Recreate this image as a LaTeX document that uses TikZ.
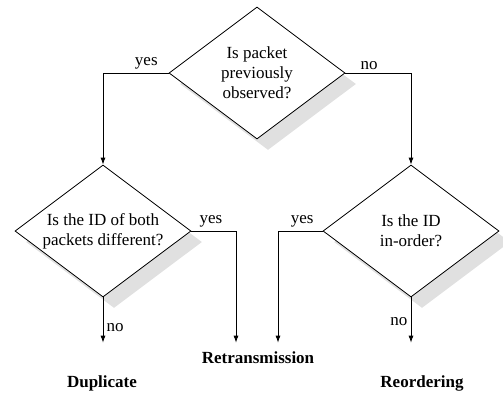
\documentclass[tikz,border=0pt]{standalone}
\usepackage{fontspec}
\setmainfont{Liberation Serif}
\usetikzlibrary{shapes.geometric,shadows,arrows.meta}

\begin{document}
\begin{tikzpicture}[x=1pt,y=-1pt,font=\fontsize{17}{20}\selectfont]

		\tikzset{decision/.style = {shape=diamond,draw,fill=white,inner sep=0pt,minimum width=176pt,minimum height=132pt,line width=0.8pt,general shadow={fill=black!12,shadow xshift=11pt,shadow yshift=-11pt}}}
		\tikzset{edge/.style = {->,> = {Latex[length=7pt,width=5pt]},line width=0.8pt}}
		\tikzset{result/.style = {font=\fontsize{17}{20}\selectfont\bfseries,anchor=base}}

		\useasboundingbox (0,0) rectangle (503,399);

		\node[decision] (observed) at (257,73) {};
		\node[decision] (different) at (103,231) {};
		\node[decision] (inorder) at (411,231) {};

		\node[align=center] (observedtext) at (observed) {Is packet\\previously\\observed?};
		\node[align=center] (differenttext) at (different) {Is the ID of both\\packets different?};
		\node[align=center] (inordertext) at (inorder) {Is the ID\\in-order?};

		\node[result] (retx) at (258,363) {Retransmission};
		\node[result] (dup) at (102,387) {Duplicate};
		\node[result] (reord) at (422,387) {Reordering};

		\draw[edge] (observed.west) -| (different.north) node [pos=0.17, above] {yes};
		\draw[edge] (observed.east) -| (inorder.north) node [pos=0.18, above] {no};

		\draw[edge, shorten >=5pt] (different.east) -| ([xshift=-22pt]retx.north) node [pos=0.22, above] {yes};
		\draw[edge, shorten >=5pt] (inorder.west) -| ([xshift=20pt]retx.north) node [pos=0.23, above] {yes};

		\draw[edge, shorten >=29pt] (different.south) -- (different.south |- dup.north) node [pos=0.4, right] {no};
		\draw[edge, shorten >=29pt] (inorder.south) -- (inorder.south |- reord.north) node [pos=0.33, left] {no};

\end{tikzpicture}
\end{document}
